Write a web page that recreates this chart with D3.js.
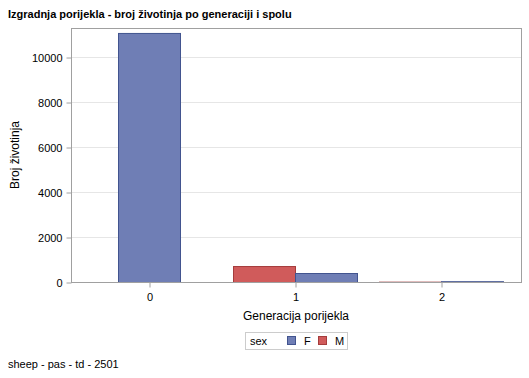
<!DOCTYPE html>
<html><head><meta charset="utf-8">
<script src="https://cdn.jsdelivr.net/npm/d3@7"></script>
<style>body{margin:0;background:#fff}svg{display:block;font-family:Arial,"Liberation Sans",sans-serif}</style>
</head><body><svg id="c" width="529" height="378"></svg>
<script>
const generations = ["0","1","2"];
const sexes = ["F","M"];
const valuesF = [11070, 400, 35];
const valuesM = [null, 710, 15];
const yTicks = [0,2000,4000,6000,8000,10000];
const colors = {F:"#6F7EB5", M:"#D05B5B"};
const strokes = {F:"#42548F", M:"#A53C3C"};

const svg = d3.select("#c");
const L=71,R=521,T=28,B=282;
const x = d3.scalePoint().domain(generations).range([149,441]);
const y = d3.scaleLinear().domain([0,11290]).range([B,T]);
const bw = 62;

svg.append("text").attr("x",8).attr("y",18).attr("font-size",11).attr("font-weight","bold").text("Izgradnja porijekla - broj životinja po generaciji i spolu");

// gridlines
svg.append("g").selectAll("line").data(yTicks.filter(d=>d>0)).join("line")
 .attr("x1",L).attr("x2",R).attr("y1",d=>Math.round(y(d))+0.5).attr("y2",d=>Math.round(y(d))+0.5).attr("stroke","#e6e6e6");

// bars
const rows=[];
generations.forEach((g,i)=>{
  const hasM = valuesM[i]!=null, hasF = valuesF[i]!=null;
  if(hasM && hasF){
    rows.push({g,s:"M",v:valuesM[i],x0:x(g)-bw});
    rows.push({g,s:"F",v:valuesF[i],x0:x(g)});
  } else if(hasF){ rows.push({g,s:"F",v:valuesF[i],x0:x(g)-bw/2}); }
  else if(hasM){ rows.push({g,s:"M",v:valuesM[i],x0:x(g)-bw/2}); }
});
svg.append("g").selectAll("rect").data(rows).join("rect")
 .attr("x",d=>d.x0+0.5).attr("width",bw).attr("y",d=>y(d.v)+0.5).attr("height",d=>Math.max(0,B-y(d.v)))
 .attr("fill",d=>colors[d.s]).attr("stroke",d=>strokes[d.s]).attr("stroke-width",1);

// frame
svg.append("rect").attr("x",L+0.5).attr("y",T+0.5).attr("width",R-L).attr("height",B-T).attr("fill","none").attr("stroke","#a0a0a0");

// y axis
const ya = svg.append("g").attr("transform",`translate(${L+0.5},0.5)`).call(d3.axisLeft(y).tickValues(yTicks).tickSize(5).tickPadding(4).tickFormat(d3.format("d")));
ya.select(".domain").remove();
ya.selectAll("line").attr("stroke","#a0a0a0");
ya.selectAll("text").attr("font-size",11).attr("fill","#000").attr("font-family","Arial,'Liberation Sans',sans-serif");

// x axis
const xa = svg.append("g").attr("transform",`translate(0.5,${B+0.5})`).call(d3.axisBottom(x).tickSize(5).tickPadding(6));
xa.select(".domain").remove();
xa.selectAll("line").attr("stroke","#a0a0a0");
xa.selectAll("text").attr("font-size",11).attr("fill","#000").attr("font-family","Arial,'Liberation Sans',sans-serif");

svg.append("text").attr("transform","translate(19,155) rotate(-90)").attr("text-anchor","middle").attr("font-size",12).text("Broj životinja");
svg.append("text").attr("x",296).attr("y",320).attr("text-anchor","middle").attr("font-size",12).text("Generacija porijekla");

// legend
const lg = svg.append("g");
lg.append("rect").attr("x",245.5).attr("y",332.5).attr("width",102).attr("height",17).attr("fill","#fff").attr("stroke","#cccccc");
lg.append("text").attr("x",250).attr("y",345).attr("font-size",11).text("sex");
const lx = {F:287, M:318};
sexes.forEach(s=>{
  lg.append("rect").attr("x",lx[s]+0.5).attr("y",336.5).attr("width",8).attr("height",8).attr("fill",colors[s]).attr("stroke",strokes[s]);
  lg.append("text").attr("x",lx[s]+17).attr("y",345).attr("font-size",11).text(s);
});

svg.append("text").attr("x",8).attr("y",368).attr("font-size",11).text("sheep - pas - td - 2501");
</script></body></html>
